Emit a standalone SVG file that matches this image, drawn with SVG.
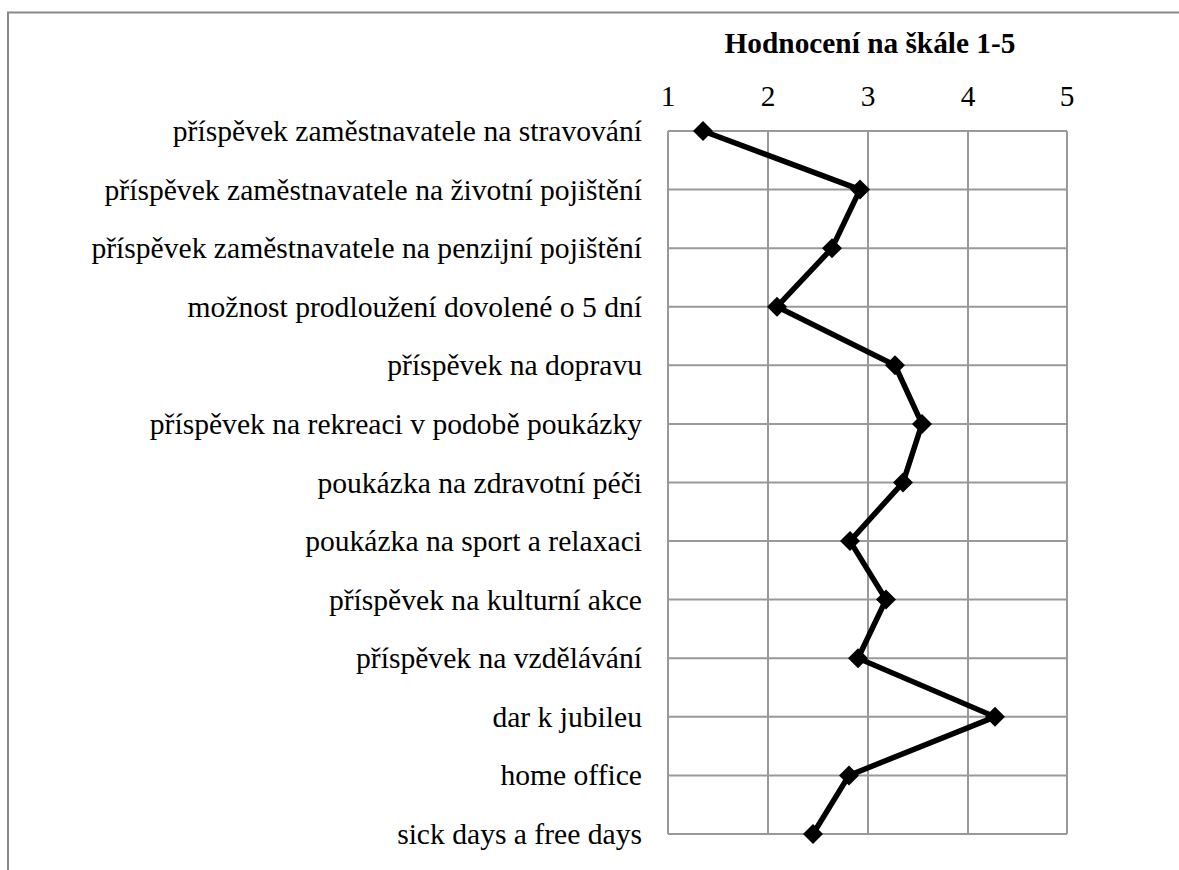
<svg xmlns="http://www.w3.org/2000/svg" width="1179" height="870" viewBox="0 0 1179 870">
<style>
text{font-family:"Liberation Serif","Times New Roman",serif;font-size:29.33px;fill:#000}
.lab{text-anchor:end;font-size:29.6px}
.tick{text-anchor:middle}
.title{text-anchor:middle;font-weight:bold}
.g{stroke:#999;stroke-width:2;fill:none}
.frame{stroke:#888;stroke-width:2;fill:none}
.series{stroke:#000;stroke-width:5.5;fill:none;stroke-linejoin:miter}
</style>
<defs>
<path id="dm" d="M0,-10 L10,0 L0,10 L-10,0 Z" fill="#000"/>
</defs>
<rect width="1179" height="870" fill="#fff"/>
<path class="frame" d="M8,870 V12.5 H1179"/>
<g id="title"><text class="title" x="870" y="53">Hodnocení na škále 1-5</text></g>
<g id="grid" class="g">
<path d="M668,131 V834 M768,131 V834 M868,131 V834 M968,131 V834 M1067,131 V834"/>
<path d="M668,131 H1067 M668,189.6 H1067 M668,248.2 H1067 M668,306.7 H1067 M668,365.3 H1067 M668,423.9 H1067 M668,482.5 H1067 M668,541.1 H1067 M668,599.6 H1067 M668,658.2 H1067 M668,716.8 H1067 M668,775.4 H1067 M668,834 H1067"/>
</g>
<g id="ticks">
<text class="tick" x="668" y="106">1</text>
<text class="tick" x="768" y="106">2</text>
<text class="tick" x="868" y="106">3</text>
<text class="tick" x="968" y="106">4</text>
<text class="tick" x="1067" y="106">5</text>
</g>
<g id="labels">
<text class="lab" x="642" y="141">příspěvek zaměstnavatele na stravování</text>
<text class="lab" x="642" y="199.6">příspěvek zaměstnavatele na životní pojištění</text>
<text class="lab" x="642" y="258.2">příspěvek zaměstnavatele na penzijní pojištění</text>
<text class="lab" x="642" y="316.7">možnost prodloužení dovolené o 5 dní</text>
<text class="lab" x="642" y="375.3">příspěvek na dopravu</text>
<text class="lab" x="642" y="433.9">příspěvek na rekreaci v podobě poukázky</text>
<text class="lab" x="642" y="492.5">poukázka na zdravotní péči</text>
<text class="lab" x="642" y="551.1">poukázka na sport a relaxaci</text>
<text class="lab" x="642" y="609.6">příspěvek na kulturní akce</text>
<text class="lab" x="642" y="668.2">příspěvek na vzdělávání</text>
<text class="lab" x="642" y="726.8">dar k jubileu</text>
<text class="lab" x="642" y="785.4">home office</text>
<text class="lab" x="642" y="844">sick days a free days</text>
</g>
<g id="connectors">
<polyline class="series" points="703,131 860,189.6 832,248.2 777,306.7 895,365.3 922,423.9 903,482.5 850,541.1 886,599.6 858,658.2 995,716.8 849,775.4 813,834"/>
</g>
<g id="points">
<use href="#dm" x="703" y="131"/>
<use href="#dm" x="860" y="189.6"/>
<use href="#dm" x="832" y="248.2"/>
<use href="#dm" x="777" y="306.7"/>
<use href="#dm" x="895" y="365.3"/>
<use href="#dm" x="922" y="423.9"/>
<use href="#dm" x="903" y="482.5"/>
<use href="#dm" x="850" y="541.1"/>
<use href="#dm" x="886" y="599.6"/>
<use href="#dm" x="858" y="658.2"/>
<use href="#dm" x="995" y="716.8"/>
<use href="#dm" x="849" y="775.4"/>
<use href="#dm" x="813" y="834"/>
</g>
</svg>
